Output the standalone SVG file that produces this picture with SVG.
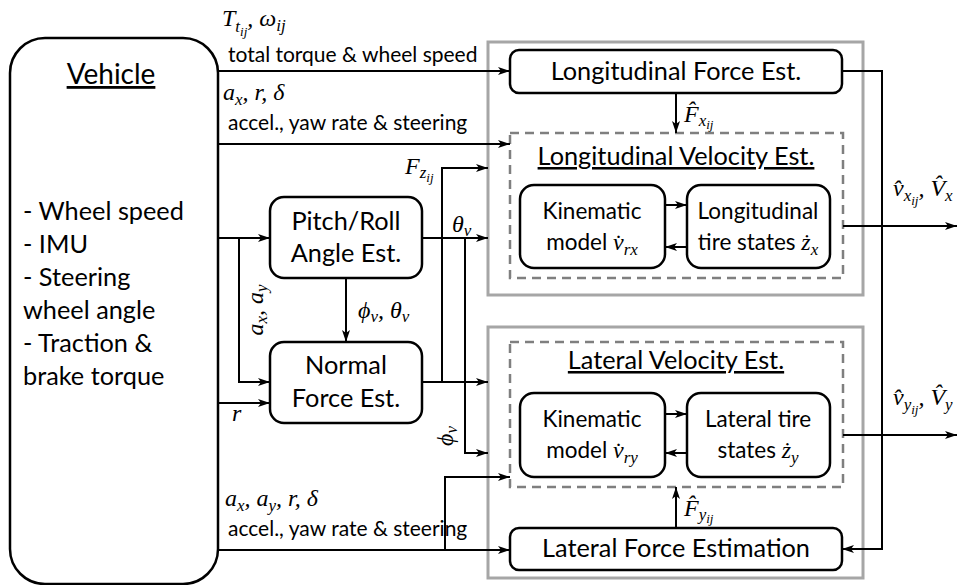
<svg xmlns="http://www.w3.org/2000/svg" width="966" height="585" viewBox="0 0 966 585">
<defs>
<style>
.box{fill:#fff;stroke:#000;stroke-width:2.5}
.gray{fill:none;stroke:#a6a6a6;stroke-width:3}
.dash{fill:none;stroke:#7f7f7f;stroke-width:2.5;stroke-dasharray:9 6}
.ln{fill:none;stroke:#000;stroke-width:2}
.arr{marker-end:url(#ah)}
.t{font-family:Lato,"Liberation Sans",sans-serif;fill:#000}
.big{font-size:25.3px}
.mid{font-size:22.5px}
.lab{font-size:21px}
.m{font-family:"Liberation Serif",serif;font-style:italic;font-size:24px;fill:#000}
.s1{font-size:17px}
.s2{font-size:13px}
.u{text-decoration:underline}
</style>
<marker id="ah" viewBox="0 0 12 9" refX="12" refY="4.5" markerWidth="12" markerHeight="9" markerUnits="userSpaceOnUse" orient="auto">
<path d="M0,0.5 L12,4.5 L0,8.5 L3,4.5 z" fill="#000"/>
</marker>
</defs>
<rect width="966" height="585" fill="#fff"/>

<g id="group-long">
<rect class="gray" x="488" y="42" width="375" height="253"/>
</g>
<g id="group-lat">
<rect class="gray" x="488" y="327" width="375" height="251"/>
</g>

<g id="vehicle">
<rect class="box" x="10" y="38" width="208" height="546" rx="35"/>
<text class="t u" x="111" y="84" font-size="28" text-anchor="middle">Vehicle</text>
<text class="t big" x="23" y="220">- Wheel speed</text>
<text class="t big" x="23" y="253">- IMU</text>
<text class="t big" x="23" y="286">- Steering</text>
<text class="t big" x="23" y="319">wheel angle</text>
<text class="t big" x="23" y="352">- Traction &amp;</text>
<text class="t big" x="23" y="385">brake torque</text>
</g>

<g id="long-force">
<rect class="box" x="510" y="50" width="332" height="43" rx="9"/>
<text class="t big" x="676" y="80" text-anchor="middle">Longitudinal Force Est.</text>
</g>

<g id="long-vel">
<rect class="dash" x="510" y="133" width="333" height="145"/>
<text class="t big u" x="676" y="165" text-anchor="middle">Longitudinal Velocity Est.</text>
</g>
<g id="kin-long">
<rect class="box" x="520" y="185" width="145" height="83" rx="14"/>
<text class="t mid" x="592" y="219" text-anchor="middle">Kinematic</text>
<text class="t mid" x="592" y="250" text-anchor="middle">model <tspan class="m">v̇</tspan><tspan class="m s1" dy="5">rx</tspan></text>
</g>
<g id="tire-long">
<rect class="box" x="687" y="185" width="143" height="83" rx="14"/>
<text class="t mid" x="758" y="219" text-anchor="middle">Longitudinal</text>
<text class="t mid" x="758" y="250" text-anchor="middle">tire states <tspan class="m">ż</tspan><tspan class="m s1" dy="5">x</tspan></text>
</g>

<g id="pitch-roll">
<rect class="box" x="270" y="197" width="152" height="81" rx="14"/>
<text class="t big" x="346" y="230" text-anchor="middle">Pitch/Roll</text>
<text class="t big" x="346" y="262" text-anchor="middle">Angle Est.</text>
</g>
<g id="normal-force">
<rect class="box" x="270" y="342" width="152" height="81" rx="14"/>
<text class="t big" x="346" y="374" text-anchor="middle">Normal</text>
<text class="t big" x="346" y="407" text-anchor="middle">Force Est.</text>
</g>

<g id="lat-vel">
<rect class="dash" x="510" y="342" width="333" height="145"/>
<text class="t big u" x="676" y="369" text-anchor="middle">Lateral Velocity Est.</text>
</g>
<g id="kin-lat">
<rect class="box" x="520" y="393" width="145" height="84" rx="14"/>
<text class="t mid" x="592" y="427" text-anchor="middle">Kinematic</text>
<text class="t mid" x="592" y="458" text-anchor="middle">model <tspan class="m">v̇</tspan><tspan class="m s1" dy="5">ry</tspan></text>
</g>
<g id="tire-lat">
<rect class="box" x="687" y="393" width="143" height="84" rx="14"/>
<text class="t mid" x="758" y="427" text-anchor="middle">Lateral tire</text>
<text class="t mid" x="758" y="458" text-anchor="middle">states <tspan class="m">ż</tspan><tspan class="m s1" dy="5">y</tspan></text>
</g>

<g id="lat-force">
<rect class="box" x="510" y="528" width="332" height="42" rx="9"/>
<text class="t big" x="676" y="557" text-anchor="middle">Lateral Force Estimation</text>
</g>

<g id="connectors">
<path class="ln arr" d="M218,71 H510"/>
<path class="ln arr" d="M218,144 H510"/>
<path class="ln arr" d="M218,238 H270"/>
<path class="ln arr" d="M239,238 V382 H270"/>
<path class="ln arr" d="M218,403 H270"/>
<path class="ln arr" d="M346,278 V342"/>
<path class="ln arr" d="M422,238 H488"/>
<path class="ln arr" d="M465,238 V453 H488"/>
<path class="ln arr" d="M422,382 H488"/>
<path class="ln arr" d="M442,382 V168 H488"/>
<path class="ln arr" d="M218,550 H510"/>
<path class="ln arr" d="M445,550 V477 H510"/>
<path class="ln arr" d="M676,93 V133"/>
<path class="ln arr" d="M676,528 V487"/>
<path class="ln arr" d="M665,205 H687"/>
<path class="ln arr" d="M687,247 H665"/>
<path class="ln arr" d="M665,414 H687"/>
<path class="ln arr" d="M687,453 H665"/>
<path class="ln arr" d="M843,226 H957"/>
<path class="ln arr" d="M843,435 H957"/>
<path class="ln arr" d="M842,71 H882 V549 H842"/>
</g>

<g id="labels">
<text class="m" x="222" y="26">T<tspan class="s1" dy="6">t</tspan><tspan class="s2" dy="4">ij</tspan><tspan dy="-10">, ω</tspan><tspan class="s1" dy="5">ij</tspan></text>
<text class="t lab" x="228" y="62">total torque &amp; wheel speed</text>
<text class="m" x="223" y="100">a<tspan class="s1" dy="5">x</tspan><tspan dy="-5">, r, δ</tspan></text>
<text class="t lab" x="228" y="130">accel., yaw rate &amp; steering</text>
<text class="m" x="684" y="122">F̂<tspan class="s1" dy="4">x</tspan><tspan class="s2" dy="3">ij</tspan></text>
<text class="m" x="405" y="174">F<tspan class="s1" dy="4">z</tspan><tspan class="s2" dy="4">ij</tspan></text>
<text class="m" x="452" y="232">θ<tspan class="s1" dy="4">v</tspan></text>
<text class="m" x="358" y="318">ϕ<tspan class="s1" dy="4">v</tspan><tspan dy="-4">, θ</tspan><tspan class="s1" dy="4">v</tspan></text>
<text class="m" transform="translate(263,310) rotate(-90)" text-anchor="middle">a<tspan class="s1" dy="4">x</tspan><tspan dy="-4">, a</tspan><tspan class="s1" dy="4">y</tspan></text>
<text class="m" x="232" y="421">r</text>
<text class="m" transform="translate(453,436) rotate(-90)" text-anchor="middle">ϕ<tspan class="s1" dy="4">v</tspan></text>
<text class="m" x="225" y="506">a<tspan class="s1" dy="5">x</tspan><tspan dy="-5">, a</tspan><tspan class="s1" dy="5">y</tspan><tspan dy="-5">, r, δ</tspan></text>
<text class="t lab" x="228" y="536">accel., yaw rate &amp; steering</text>
<text class="m" x="684" y="516">F̂<tspan class="s1" dy="4">y</tspan><tspan class="s2" dy="3">ij</tspan></text>
<text class="m" x="893" y="196">v̂<tspan class="s1" dy="5">x</tspan><tspan class="s2" dy="4">ij</tspan><tspan dy="-9">, V̂</tspan><tspan class="s1" dy="5">x</tspan></text>
<text class="m" x="893" y="405">v̂<tspan class="s1" dy="5">y</tspan><tspan class="s2" dy="4">ij</tspan><tspan dy="-9">, V̂</tspan><tspan class="s1" dy="5">y</tspan></text>
</g>
</svg>
